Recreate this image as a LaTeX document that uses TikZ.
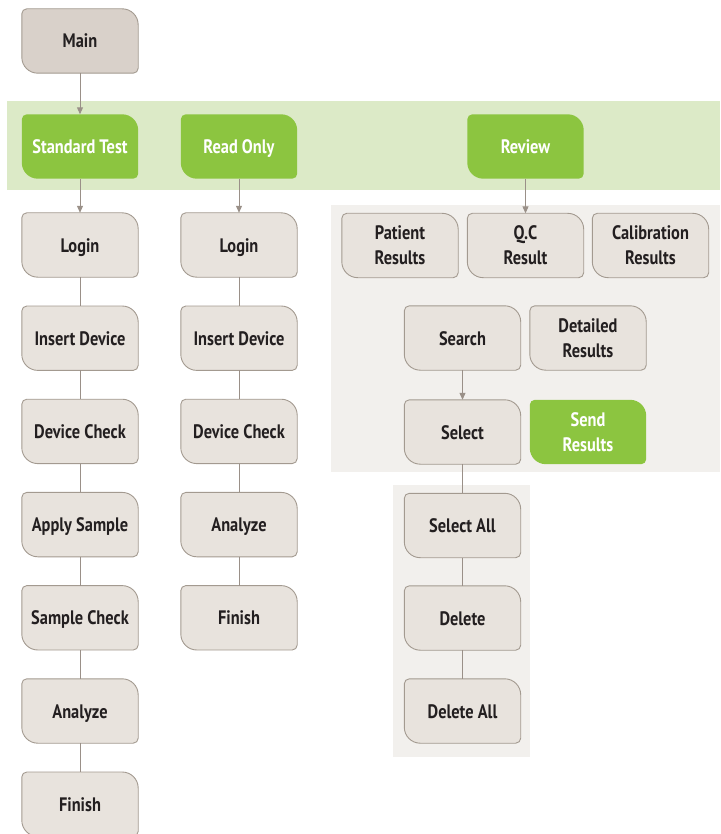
\documentclass[tikz,border=0pt]{standalone}
\usepackage{fontspec}
\setmainfont{PT Sans}[FakeStretch=0.84]
\usetikzlibrary{arrows.meta,calc}
\pgfdeclarelayer{panel}
\pgfdeclarelayer{boxes}
\pgfsetlayers{panel,boxes,main}
\definecolor{boxfill}{HTML}{E8E3DD}
\definecolor{mainfill}{HTML}{D9D1CA}
\definecolor{boxline}{HTML}{A39A90}
\definecolor{txt}{HTML}{231F20}
\definecolor{grn}{HTML}{8CC540}
\definecolor{band}{HTML}{DCEAC7}
\definecolor{panelgray}{HTML}{F2F0ED}
\definecolor{conncol}{HTML}{9A9088}
\newcommand\leafshape[3]{%
  \draw[#3, fill=#2, line width=0.9pt]
    ($(#1.north west)+(0,-5pt)$) arc[start angle=180,end angle=90,radius=5pt]
    -- ($(#1.north east)+(-16pt,0)$) arc[start angle=90,end angle=0,radius=16pt]
    -- ($(#1.south east)+(0,5pt)$) arc[start angle=0,end angle=-90,radius=5pt]
    -- ($(#1.south west)+(16pt,0)$) arc[start angle=-90,end angle=-180,radius=16pt]
    -- cycle;}
\tikzset{
  box2/.style={rectangle, minimum width=116pt, minimum height=64pt, inner sep=0pt,
    align=center, text=txt, font=\bfseries\fontsize{19.5}{25}\selectfont},
  box/.style={box2, text height=17pt, text depth=3pt},
  gbox/.style={box, text=white},
  gbox2/.style={box2, text=white},
  conn/.style={draw=conncol, line width=1pt},
  arr/.style={conn, -{Triangle[length=7pt,width=6pt]}},
}
\begin{document}
\begin{tikzpicture}[x=1pt,y=-1pt]
\useasboundingbox (0,0) rectangle (720,834);
\begin{pgfonlayer}{panel}
  \fill[band] (7,101) rectangle (720,190);
  \fill[panelgray] (331,205) rectangle (720,472);
  \fill[panelgray] (393,485) rectangle (530,757);
\end{pgfonlayer}
\node[box] (main) at (80,41) {Main};
\node[gbox] (std) at (80,146.5) {Standard Test};
\node[gbox] (ro) at (239,146.5) {Read Only};
\node[gbox] (rev) at (525.5,146.5) {Review};
\node[box] (l1) at (80,245) {Login};
\node[box] (l2) at (80,338.2) {Insert Device};
\node[box] (l3) at (80,431.4) {Device Check};
\node[box] (l4) at (80,524.6) {Apply Sample};
\node[box] (l5) at (80,617.8) {Sample Check};
\node[box] (l6) at (80,711) {Analyze};
\node[box] (l7) at (80,804.2) {Finish};
\node[box] (r1) at (239,245) {Login};
\node[box] (r2) at (239,338.2) {Insert Device};
\node[box] (r3) at (239,431.4) {Device Check};
\node[box] (r4) at (239,524.6) {Analyze};
\node[box] (r5) at (239,617.8) {Finish};
\node[box2] (pat) at (400,245.5) {Patient\\Results};
\node[box2] (qc) at (525.5,245.5) {Q.C\\Result};
\node[box2] (cal) at (650.5,245.5) {Calibration\\Results};
\node[box] (srch) at (462.5,338) {Search};
\node[box2] (det) at (588,338) {Detailed\\Results};
\node[box] (sel) at (462.5,432) {Select};
\node[gbox2] (send) at (588,432) {Send\\Results};
\node[box] (sall) at (462.5,525.5) {Select All};
\node[box] (del) at (462.5,618) {Delete};
\node[box] (dall) at (462.5,711) {Delete All};
\begin{pgfonlayer}{boxes}
  \leafshape{main}{mainfill}{draw=boxline}
  \foreach \n in {std,ro,rev,send} {\leafshape{\n}{grn}{draw=none}}
  \foreach \n in {l1,l2,l3,l4,l5,l6,l7,r1,r2,r3,r4,r5,pat,qc,cal,srch,det,sel,sall,del,dall}
    {\leafshape{\n}{boxfill}{draw=boxline}}
\end{pgfonlayer}
\draw[arr] (main) -- (std);
\draw[arr] (std) -- (l1);
\draw[arr] (ro) -- (r1);
\draw[arr] (rev) -- (qc);
\draw[arr] (srch) -- (sel);
\draw[conn] (l1) -- (l2);
\draw[conn] (l2) -- (l3);
\draw[conn] (l3) -- (l4);
\draw[conn] (l4) -- (l5);
\draw[conn] (l5) -- (l6);
\draw[conn] (l6) -- (l7);
\draw[conn] (r1) -- (r2);
\draw[conn] (r2) -- (r3);
\draw[conn] (r3) -- (r4);
\draw[conn] (r4) -- (r5);
\draw[conn] (sel) -- (sall);
\draw[conn] (sall) -- (del);
\draw[conn] (del) -- (dall);
\end{tikzpicture}
\end{document}
